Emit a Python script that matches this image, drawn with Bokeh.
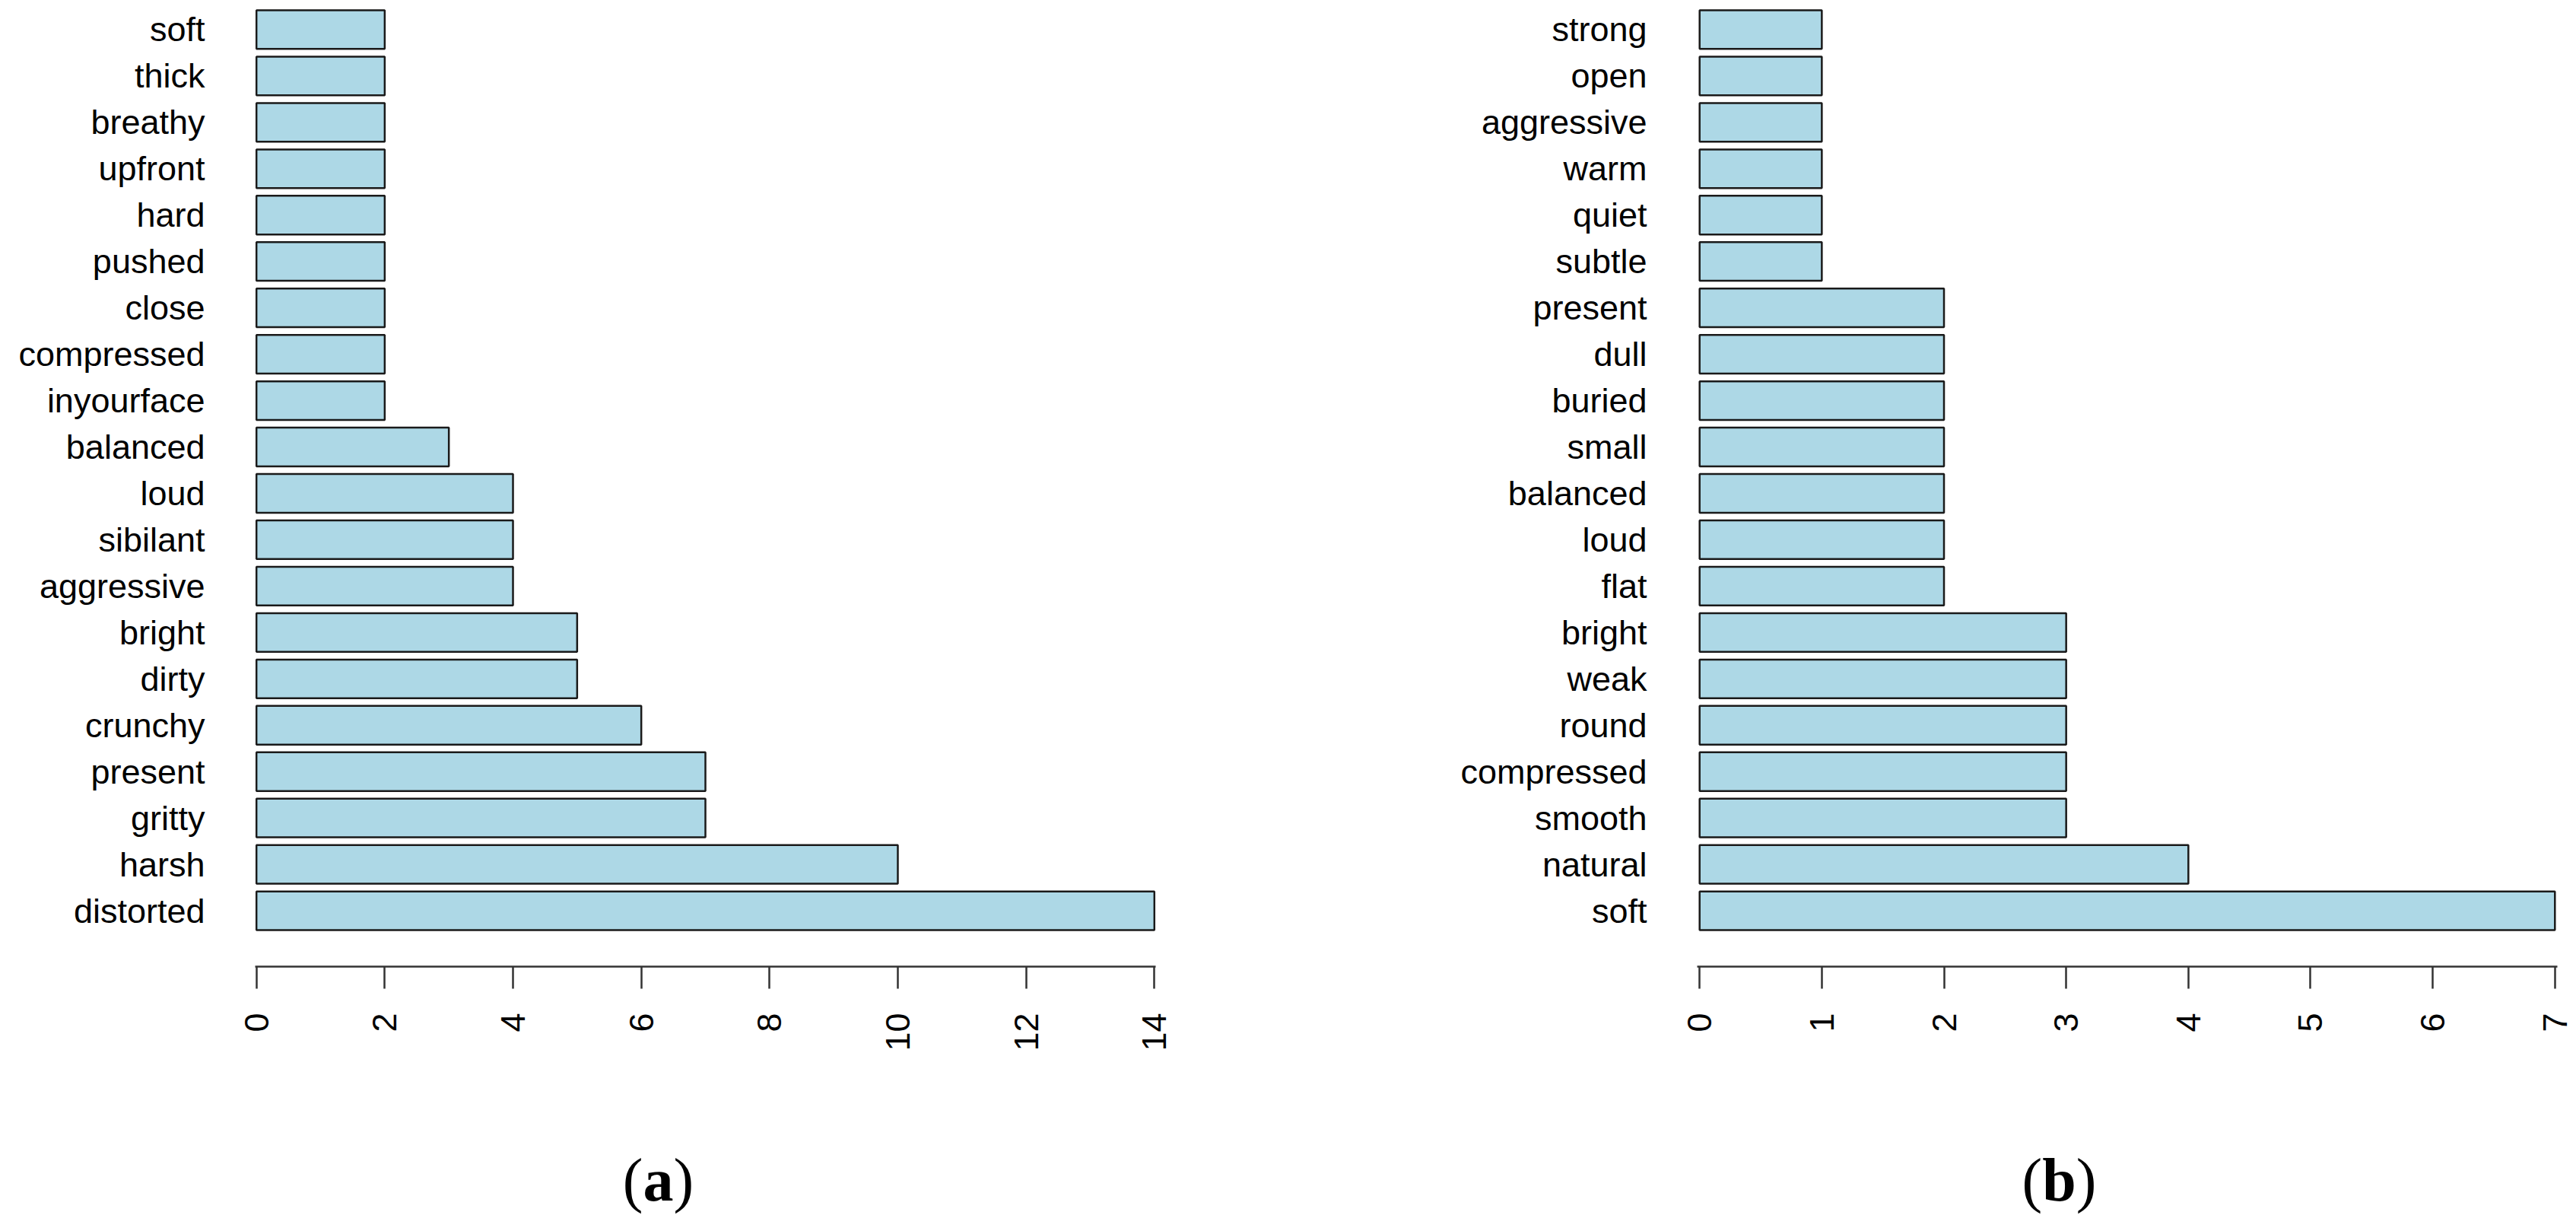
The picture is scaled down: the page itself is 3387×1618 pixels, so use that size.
import math
from bokeh.plotting import figure
from bokeh.models import FixedTicker, Range1d
from bokeh.layouts import row, column
from bokeh.core.properties import value
from bokeh.embed import file_html
from bokeh.resources import INLINE

# ---- data (listed bottom bar first) ----
labels_a = ["distorted", "harsh", "gritty", "present", "crunchy", "dirty", "bright",
            "aggressive", "sibilant", "loud", "balanced", "inyourface", "compressed",
            "close", "pushed", "hard", "upfront", "breathy", "thick", "soft"]
values_a = [14, 10, 7, 7, 6, 5, 5, 4, 4, 4, 3, 2, 2, 2, 2, 2, 2, 2, 2, 2]

labels_b = ["soft", "natural", "smooth", "compressed", "round", "weak", "bright",
            "flat", "loud", "balanced", "small", "buried", "dull", "present",
            "subtle", "quiet", "warm", "aggressive", "open", "strong"]
values_b = [7, 4, 3, 3, 3, 3, 3, 2, 2, 2, 2, 2, 2, 2, 1, 1, 1, 1, 1, 1]

ticks_a = [0, 2, 4, 6, 8, 10, 12, 14]
ticks_b = [0, 1, 2, 3, 4, 5, 6, 7]

captions = [("(", "a", ")"), ("(", "b", ")")]

# ---- layout constants (pixels) ----
PITCH = 60.96             # px per bar slot
BAR_H = 1 / 1.2           # bar height in slot units
Y_START = -0.4167 - 48 / PITCH
Y_END = 19.4167 + 5 / PITCH
FRAME_H = int(round((Y_END - Y_START) * PITCH))
TOP = 8
BOTTOM = 200
CAP_H = 140
FILL = "#ADD8E6"
LINE = "#1a1a1a"
FONT = "Liberation Sans"
SERIF = "Liberation Serif"


def panel(labels, values, ticks, px_per_x, border_left, border_right):
    xmax = ticks[-1]
    pad = 0.02
    frame_w = int(round((xmax + 2 * pad) * px_per_x))
    p = figure(output_backend="svg", toolbar_location=None,
               frame_width=frame_w, frame_height=FRAME_H,
               min_border_left=border_left, min_border_right=border_right,
               min_border_top=TOP, min_border_bottom=BOTTOM,
               x_range=Range1d(-pad, xmax + pad), y_range=Range1d(Y_START, Y_END))
    p.outline_line_color = None
    p.grid.visible = False
    p.background_fill_color = "white"
    p.border_fill_color = "white"

    ys = list(range(len(labels)))
    p.hbar(y=ys, left=0, right=values, height=BAR_H,
           fill_color=FILL, line_color=LINE, line_width=2.5)

    xa = p.xaxis[0]
    xa.ticker = FixedTicker(ticks=ticks)
    xa.minor_tick_line_color = None
    xa.major_tick_in = 0
    xa.major_tick_out = 29
    xa.major_tick_line_width = 2.5
    xa.major_tick_line_color = "#333333"
    xa.axis_line_width = 2.5
    xa.axis_line_color = "#333333"
    xa.major_label_orientation = math.pi / 2
    xa.major_label_standoff = 32
    xa.major_label_text_font = FONT
    xa.major_label_text_font_size = "45px"
    xa.major_label_text_color = "black"

    ya = p.yaxis[0]
    ya.ticker = FixedTicker(ticks=ys)
    ya.major_label_overrides = {i: lab for i, lab in zip(ys, labels)}
    ya.axis_line_color = None
    ya.major_tick_line_color = None
    ya.minor_tick_line_color = None
    ya.major_tick_in = 0
    ya.major_tick_out = 0
    ya.major_label_standoff = 66
    ya.major_label_text_font = FONT
    ya.major_label_text_font_size = "45px"
    ya.major_label_text_color = "black"
    return p


def caption(width, parts, center_px, letter_w):
    c = figure(output_backend="svg", toolbar_location=None,
               width=width, height=CAP_H, min_border=0,
               x_axis_type=None, y_axis_type=None,
               x_range=Range1d(0, width), y_range=Range1d(0, CAP_H))
    c.outline_line_color = None
    c.grid.visible = False
    base_y = CAP_H - 80
    half = letter_w / 2
    lp, letter, rp = parts
    c.text(x=[center_px], y=[base_y], text=[letter], text_align="center",
           text_baseline="alphabetic", text_font=value(SERIF), text_font_style="bold",
           text_font_size="80px", text_color="black")
    c.text(x=[center_px], y=[base_y], text=[lp], x_offset=-half, text_align="right",
           text_baseline="alphabetic", text_font=value(SERIF),
           text_font_size="80px", text_color="black")
    c.text(x=[center_px], y=[base_y], text=[rp], x_offset=half, text_align="left",
           text_baseline="alphabetic", text_font=value(SERIF),
           text_font_size="80px", text_color="black")
    return c


W1 = 1700
RB = 24
pa = panel(labels_a, values_a, ticks_a, 84.3, 335, W1 - 335 - int(round(14.04 * 84.3)))
pb = panel(labels_b, values_b, ticks_b, 160.6, 2231 - W1, RB)
W2 = (2231 - W1) + int(round(7.04 * 160.6)) + RB

ca = caption(W1, captions[0], 865, 40)
cb = caption(W2, captions[1], 2707 - W1, 44.5)

layout = column(row(pa, pb), row(ca, cb))
open("out.html", "w").write(file_html(layout, INLINE))
